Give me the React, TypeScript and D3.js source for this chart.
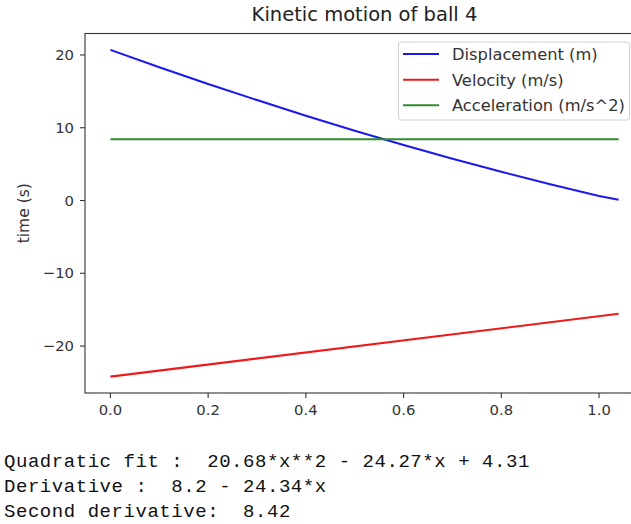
import React from "react";
import * as d3 from "d3";

const timeX = [0, 0.1, 0.2, 0.3, 0.4, 0.5, 0.6, 0.7, 0.8, 0.9, 1.0, 1.04];
const displacement = [20.7, 18.3, 16.0, 13.8, 11.65, 9.6, 7.64, 5.75, 3.95, 2.24, 0.61, 0.1];
const velocityX = [0, 1.04];
const velocity = [-24.2, -15.56];
const accelerationX = [0, 1.04];
const acceleration = [8.42, 8.42];

const xTicks = [0, 0.2, 0.4, 0.6, 0.8, 1.0];
const yTicks = [-20, -10, 0, 10, 20];

const seriesNames = ["Displacement (m)", "Velocity (m/s)", "Acceleration (m/s^2)"];
const seriesColors = ["#1a1aee", "#ee1a1a", "#2e8b2e"];

const title = "Kinetic motion of ball 4";
const yLabel = "time (s)";
const outputLines = [
  "Quadratic fit :  20.68*x**2 - 24.27*x + 4.31",
  "Derivative :  8.2 - 24.34*x",
  "Second derivative:  8.42",
];

const W = 631;
const H = 524;
const plotL = 85;
const plotR = 644;
const plotT = 33.5;
const plotB = 393;

export default function App() {
  const x = d3.scaleLinear().domain([-0.052, 1.092]).range([plotL, plotR]);
  const y = d3.scaleLinear().domain([-26.45, 22.95]).range([plotB, plotT]);
  const line = d3
    .line<[number, number]>()
    .x((d) => x(d[0]))
    .y((d) => y(d[1]));

  const series: [number, number][][] = [
    timeX.map((t, i) => [t, displacement[i]]),
    velocityX.map((t, i) => [t, velocity[i]]),
    accelerationX.map((t, i) => [t, acceleration[i]]),
  ];

  const fmtX = d3.format(".1f");
  const fmtY = (v: number) => (v < 0 ? "\u2212" + Math.abs(v) : String(v));
  const font = "DejaVu Sans, sans-serif";

  const legX = 398.5;
  const legY = 42;
  const legW = 231;
  const legH = 78;
  const rowY = [54, 79.7, 105.3];

  return (
    <svg
      width={W}
      height={H}
      style={{ position: "absolute", left: 0, top: 0, background: "#fff" }}
    >
      <rect x={0} y={0} width={W} height={H} fill="#fff" />
      <text x={364.5} y={21} textAnchor="middle" fontFamily={font} fontSize={19.5} fill="#222">
        {title}
      </text>
      {series.map((s, i) => (
        <path key={i} d={line(s) || ""} fill="none" stroke={seriesColors[i]} strokeWidth={2.1} />
      ))}
      <rect x={plotL} y={plotT} width={plotR - plotL} height={plotB - plotT} fill="none" stroke="#333" strokeWidth={1.1} />
      {xTicks.map((t) => (
        <g key={t}>
          <line x1={x(t)} x2={x(t)} y1={plotB} y2={plotB + 5} stroke="#333" strokeWidth={1.1} />
          <text x={x(t)} y={415} textAnchor="middle" fontFamily={font} fontSize={14.8} fill="#333">
            {fmtX(t)}
          </text>
        </g>
      ))}
      {yTicks.map((t) => (
        <g key={t}>
          <line x1={plotL - 5} x2={plotL} y1={y(t)} y2={y(t)} stroke="#333" strokeWidth={1.1} />
          <text x={74} y={y(t)} dy="0.35em" textAnchor="end" fontFamily={font} fontSize={14.8} fill="#333">
            {fmtY(t)}
          </text>
        </g>
      ))}
      <text
        transform={`translate(29, ${(plotT + plotB) / 2}) rotate(-90)`}
        textAnchor="middle"
        fontFamily={font}
        fontSize={15.5}
        fill="#333"
      >
        {yLabel}
      </text>
      <rect x={legX} y={legY} width={legW} height={legH} rx={3} fill="#fff" fillOpacity={0.85} stroke="#d0d0d0" strokeWidth={1} />
      {seriesNames.map((n, i) => (
        <g key={n}>
          <line x1={403} x2={439} y1={rowY[i]} y2={rowY[i]} stroke={seriesColors[i]} strokeWidth={2.1} />
          <text x={452} y={rowY[i]} dy="0.36em" fontFamily={font} fontSize={16.3} fill="#333">
            {n}
          </text>
        </g>
      ))}
      {outputLines.map((l, i) => (
        <text
          key={i}
          x={4}
          y={466.7 + i * 25}
          fontFamily="Liberation Mono, monospace"
          fontSize={19}
          letterSpacing={0.55}
          fill="#111"
          style={{ whiteSpace: "pre" }}
        >
          {l}
        </text>
      ))}
    </svg>
  );
}
